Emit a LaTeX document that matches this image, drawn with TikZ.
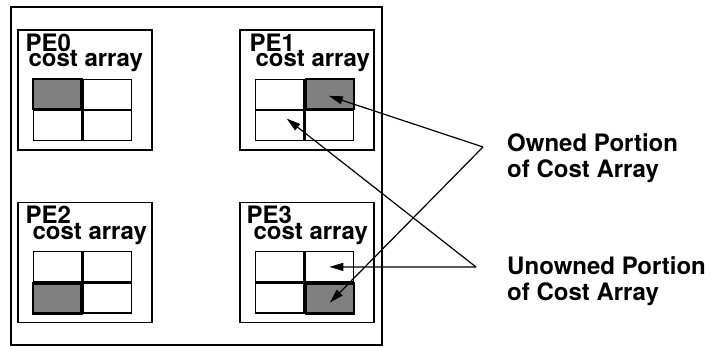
\documentclass[tikz,border=0pt]{standalone}
\usepackage{fontspec}
\setmainfont{TeX Gyre Heros}
\usepackage{tikz}
\usetikzlibrary{arrows.meta,calc,positioning}
\definecolor{cellgray}{HTML}{808080}
\tikzset{
  board/.style={draw,line width=1.4pt,minimum width=371pt,minimum height=338pt,inner sep=0pt},
  pebox/.style={draw,line width=1.4pt,minimum width=134pt,minimum height=120pt,inner sep=0pt},
  cell/.style={draw,line width=1.2pt,minimum width=48.5pt,minimum height=30pt,inner sep=0pt},
  owncell/.style={cell,fill=cellgray,line width=2.2pt},
  pelabel/.style={inner sep=0pt,anchor=base west,font=\fontsize{24}{26}\selectfont\bfseries},
  note/.style={inner sep=0pt,anchor=north west,align=left,font=\fontsize{24}{26}\selectfont\bfseries},
  pointer/.style={-{Triangle[length=14pt,width=8pt]},line width=1.2pt}
}
\begin{document}
\begin{tikzpicture}[x=1pt,y=1pt]
\useasboundingbox (0,0) rectangle (724,347);
\node[board] (machine) at (196.5,171) {};
% processing elements
\node[pebox] (pe0) at (85,257) {};
\node[pebox] (pe1) at (307,257) {};
\node[pebox] (pe2) at (85,84.5) {};
\node[pebox] (pe3) at (307,84.5) {};
\node[pelabel] (pe0-name) at ($(pe0.north west)+(8,-22)$) {PE0};
\node[pelabel] (pe0-text) at ($(pe0.north west)+(11,-37)$) {cost array};
\node[pelabel] (pe1-name) at ($(pe1.north west)+(10,-22)$) {PE1};
\node[pelabel] (pe1-text) at ($(pe1.north west)+(16,-37)$) {cost array};
\node[pelabel] (pe2-name) at ($(pe2.north west)+(8,-22)$) {PE2};
\node[pelabel] (pe2-text) at ($(pe2.north west)+(15,-38)$) {cost array};
\node[pelabel] (pe3-name) at ($(pe3.north west)+(7,-22)$) {PE3};
\node[pelabel] (pe3-text) at ($(pe3.north west)+(14,-38)$) {cost array};
% cost array grids
\foreach \p in {pe0,pe1,pe2,pe3}{
  \coordinate (\p g) at ($(\p.center)+(-2.5,-20)$);
}
\node[owncell,anchor=south east] (pe0-tl) at (pe0g) {};
\node[cell,anchor=south west] (pe0-tr) at (pe0g) {};
\node[cell,anchor=north east] (pe0-bl) at (pe0g) {};
\node[cell,anchor=north west] (pe0-br) at (pe0g) {};
\node[cell,anchor=south east] (pe1-tl) at (pe1g) {};
\node[owncell,anchor=south west] (pe1-tr) at (pe1g) {};
\node[cell,anchor=north east] (pe1-bl) at (pe1g) {};
\node[cell,anchor=north west] (pe1-br) at (pe1g) {};
\node[cell,anchor=south east] (pe2-tl) at (pe2g) {};
\node[cell,anchor=south west] (pe2-tr) at (pe2g) {};
\node[owncell,anchor=north east] (pe2-bl) at (pe2g) {};
\node[cell,anchor=north west] (pe2-br) at (pe2g) {};
\node[cell,anchor=south east] (pe3-tl) at (pe3g) {};
\node[cell,anchor=south west] (pe3-tr) at (pe3g) {};
\node[cell,anchor=north east] (pe3-bl) at (pe3g) {};
\node[owncell,anchor=north west] (pe3-br) at (pe3g) {};
% legend
\node[note] (owned) at (507,214) {Owned Portion\\of Cost Array};
\node[note] (unowned) at (507,91) {Unowned Portion\\of Cost Array};
\coordinate (own) at (483,200);
\coordinate (unown) at (476,80);
\draw[pointer] (own) -- ($(pe1-tr.center)+(-1,-2)$);
\draw[pointer] (own) -- ($(pe3-br.center)+(0,-4)$);
\draw[pointer] (unown) -- ($(pe1-bl.center)+(7,7)$);
\draw[pointer] (unown) -- (pe3-tr.center);
\end{tikzpicture}
\end{document}
